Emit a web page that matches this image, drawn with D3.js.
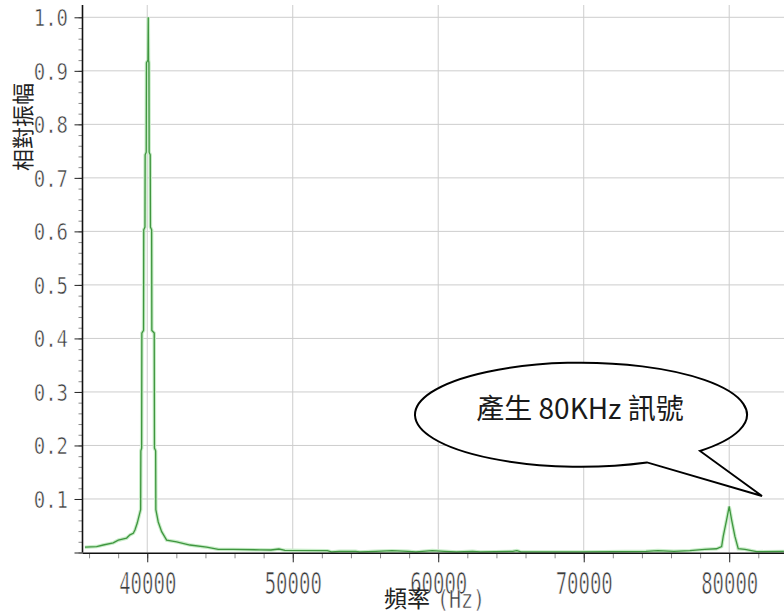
<!DOCTYPE html>
<html>
<head>
<meta charset="utf-8">
<script src="https://cdn.jsdelivr.net/npm/d3@7"></script>
<style>
	body{margin:0;background:#fff;}
	svg{display:block;}
</style>
</head>
<body>
<div class="plot"></div>
<script>
//Prepare DOM canvas
const w = 784;
const h = 614;
const svg = d3.select('.plot').append('svg').attr('width', w).attr('height', h);

//Data: frequency (Hz) and relative amplitude
const freqs = [
	35718, 36522, 36976, 37663, 38007, 38584, 38811, 39038, 39155, 39313, 39498,
	39546, 39560, 39615, 39629, 39746, 39759, 39842, 39856, 39931, 39945, 40048, 40069,
	40089, 40117, 40131, 40206, 40220, 40302, 40316, 40481, 40495, 40577, 40591,
	40756, 40990, 41333, 42021, 42935, 44083, 44880, 45911, 47746,
	48502, 49052, 49464, 52378, 52660, 53210, 54317, 54598, 55705, 56818, 57918,
	58468, 59588, 60420, 61252, 62358, 62908, 65128, 65403, 65685, 69843, 74276,
	75101, 76200, 77300, 78325, 79130, 79478, 79588, 79821, 80000, 80165, 80392,
	80619, 81079, 81884, 83760
];
const amps = [
	0.010, 0.011, 0.014, 0.018, 0.023, 0.027, 0.033, 0.036, 0.042, 0.055, 0.075,
	0.080, 0.190, 0.195, 0.410, 0.415, 0.603, 0.608, 0.743, 0.748, 0.915, 0.920, 1.000,
	0.920, 0.915, 0.748, 0.743, 0.608, 0.603, 0.415, 0.410, 0.195, 0.190, 0.080,
	0.057, 0.039, 0.023, 0.020, 0.014, 0.010, 0.006, 0.0058, 0.005,
	0.0047, 0.0065, 0.004, 0.0034, 0.001, 0.0022, 0.0022, 0.001, 0.0022, 0.0035, 0.0022,
	0.001, 0.0035, 0.0022, 0.001, 0.0022, 0.001, 0.0022, 0.0035, 0.001, 0.001, 0.0022,
	0.0035, 0.0022, 0.0035, 0.006, 0.007, 0.011, 0.030, 0.061, 0.086, 0.061, 0.030,
	0.007, 0.006, 0.0015, 0.002
];

//Ticks and labels
const xMajor = [40000, 50000, 60000, 70000, 80000];
const xMinor = d3.range(36000, 84000, 2000);
const yMajor = [0, 0.1, 0.2, 0.3, 0.4, 0.5, 0.6, 0.7, 0.8, 0.9, 1.0];
const yMinor = d3.range(0, 1.01, 0.02);
const xTitleCjk = '頻率';
const xTitleUnit = '(Hz)';
const yTitle = '相對振幅';
const callout = '產生 80KHz 訊號';

const spectrum = freqs.map((f, i) => ({f, a: amps[i]}));

//Scales
const x = d3.scaleLinear().domain([35550, 83800]).range([82.5, 784.5]);
const y = d3.scaleLinear().domain([0, 1.023]).range([552.5, 5]);

const monoFont = '"DejaVu Sans Mono", monospace';
const cjkFont = '"Noto Sans CJK TC", "Noto Sans CJK SC", sans-serif';

//Grid
svg.append('g').selectAll('line')
	.data(xMajor)
	.enter().append('line')
	.attr('x1', d => x(d)).attr('x2', d => x(d))
	.attr('y1', y(1.023)).attr('y2', y(0))
	.style('stroke', '#cdcdcd').style('stroke-width', 1);
svg.append('g').selectAll('line')
	.data(yMajor.filter(d => d > 0))
	.enter().append('line')
	.attr('x1', x(35550)).attr('x2', w)
	.attr('y1', d => y(d)).attr('y2', d => y(d))
	.style('stroke', '#cdcdcd').style('stroke-width', 1);

//Curve: soft halo then the line itself
const line = d3.line().x(d => x(d.f)).y(d => y(d.a));
svg.append('path').datum(spectrum)
	.attr('d', line)
	.style('fill', 'none').style('stroke', '#c8ecc8').style('stroke-width', 3.5);
svg.append('path').datum(spectrum)
	.attr('d', line)
	.style('fill', 'none').style('stroke', '#3f963f').style('stroke-width', 1.3);

//Axes
const xAxisMinor = svg.append('g').attr('transform', `translate(0,${y(0) + 0.8})`)
	.call(d3.axisBottom(x).tickValues(xMinor).tickSize(5).tickFormat(''));
const xAxis = svg.append('g').attr('transform', `translate(0,${y(0) + 0.8})`)
	.call(d3.axisBottom(x).tickValues(xMajor).tickSize(9).tickFormat(d3.format('d')));
const yAxisMinor = svg.append('g').attr('transform', `translate(${x(35550)},0)`)
	.call(d3.axisLeft(y).tickValues(yMinor).tickSize(4).tickFormat(''));
const yAxis = svg.append('g').attr('transform', `translate(${x(35550)},0)`)
	.call(d3.axisLeft(y).tickValues(yMajor).tickSize(8).tickFormat(d => d === 0 ? '' : d3.format('.1f')(d)));

[xAxisMinor, yAxisMinor].forEach(g => {
	g.select('.domain').remove();
	g.selectAll('.tick line').style('stroke', '#8a8a8a');
});
[xAxis, yAxis].forEach(g => {
	g.select('.domain').style('stroke', '#111').style('stroke-width', 1.6);
	g.selectAll('.tick line').style('stroke', '#222');
	//thin white edge makes the glyphs look lighter, as in the original
	g.selectAll('.tick text')
		.style('font-family', monoFont)
		.style('font-size', '19px')
		.style('fill', '#3a3a3a')
		.style('stroke', '#fff')
		.style('stroke-width', '0.45px');
});
xAxis.select('.domain').attr('d', `M${x(35550)},0H${w}`);
yAxis.select('.domain').attr('d', `M0,${y(1.023)}V${y(0)}`);

//Tall narrow tick labels like the original
xAxis.selectAll('.tick text')
	.attr('y', null).attr('dy', '0.36em')
	.attr('transform', 'translate(0,30) scale(1,1.55)');
yAxis.selectAll('.tick text')
	.attr('x', null).attr('dy', '0.36em')
	.attr('transform', 'translate(-14.5,0) scale(1,1.2)');

//Axis titles
svg.append('text')
	.attr('transform', 'translate(21,127) rotate(-90)')
	.attr('text-anchor', 'middle')
	.attr('dominant-baseline', 'central')
	.style('font-family', cjkFont)
	.style('font-size', '22px')
	.style('fill', '#222')
	.text(yTitle);
svg.append('text')
	.attr('x', 384).attr('y', 607)
	.style('font-family', cjkFont)
	.style('font-size', '23px')
	.style('fill', '#222')
	.text(xTitleCjk);
svg.append('text')
	.attr('transform', 'translate(437,599) scale(1,1.25)')
	.attr('dominant-baseline', 'central')
	.style('font-family', monoFont)
	.style('font-size', '20px')
	.style('fill', '#3a3a3a')
	.style('stroke', '#fff')
	.style('stroke-width', '0.45px')
	.text(xTitleUnit);

//Speech bubble
const cx = 581, cy = 414.7, rx = 166, ry = 52;
const tip = [762, 496];
const aA = Math.acos(66 / 166);
const aB = Math.acos(119 / 166);
const pA = [cx + rx * Math.cos(aA), cy + ry * Math.sin(aA)];
const pB = [cx + rx * Math.cos(aB), cy + ry * Math.sin(aB)];
svg.append('path')
	.attr('d', `M${pB[0]},${pB[1]} A${rx},${ry} 0 1 0 ${pA[0]},${pA[1]} L${tip[0]},${tip[1]} Z`)
	.style('fill', '#fff')
	.style('stroke', '#000')
	.style('stroke-width', 2)
	.style('stroke-linejoin', 'miter');
svg.append('text')
	.attr('x', 580).attr('y', 407)
	.attr('text-anchor', 'middle')
	.attr('dominant-baseline', 'central')
	.style('font-family', cjkFont)
	.style('font-size', '28px')
	.style('fill', '#1a1a1a')
	.text(callout);
</script>
</body>
</html>
